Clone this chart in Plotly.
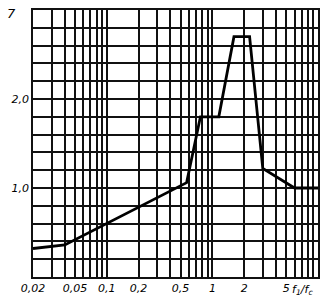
import numpy as np
import plotly.graph_objects as go

# Data
ratio = [0.02, 0.04, 0.57, 0.77, 1.15, 1.6, 2.25, 3.0, 6.0, 10.0]
value = [0.32, 0.36, 1.06, 1.8, 1.8, 2.7, 2.7, 1.22, 1.0, 1.0]

x_grid = [0.02, 0.03, 0.04, 0.05, 0.06, 0.07, 0.08, 0.09,
          0.1, 0.2, 0.3, 0.4, 0.5, 0.6, 0.7, 0.8, 0.9,
          1, 2, 3, 4, 5, 6, 7, 8, 9, 10]
x_tick_vals = [0.02, 0.05, 0.1, 0.2, 0.5, 1, 2, 5]
x_tick_text = ["0,02", "0,05", "0,1", "0,2", "0,5", "1", "2", "5"]
y_grid = [round(0.2 * k, 1) for k in range(16)]
y_tick_vals = [1.0, 2.0]
y_tick_text = ["1,0", "2,0"]
top_label = "7"
x_title = "f<sub>1</sub>/f<sub>c</sub>"

font = dict(family="DejaVu Sans", size=11, color="black", style="italic")
grid_col = "#111"
grid_w = 1.6

fig = go.Figure()
fig.add_trace(go.Scatter(x=ratio, y=value, mode="lines",
                         line=dict(color="black", width=2.8),
                         showlegend=False, hoverinfo="skip"))

fig.update_xaxes(type="log", range=[np.log10(0.02), np.log10(10)],
                 tickmode="array", tickvals=x_tick_vals, ticktext=x_tick_text,
                 showgrid=True, gridcolor=grid_col, gridwidth=grid_w,
                 minor=dict(tickmode="array", tickvals=x_grid, showgrid=True,
                            gridcolor=grid_col, gridwidth=grid_w, ticks=""),
                 showline=True, linecolor="#111", linewidth=1.6, mirror=True,
                 ticks="", tickfont=font, zeroline=False)
fig.update_yaxes(range=[0, 3],
                 tickmode="array", tickvals=y_tick_vals, ticktext=y_tick_text,
                 showgrid=True, gridcolor=grid_col, gridwidth=grid_w,
                 minor=dict(tickmode="array", tickvals=y_grid, showgrid=True,
                            gridcolor=grid_col, gridwidth=grid_w, ticks=""),
                 showline=True, linecolor="#111", linewidth=1.6, mirror=True,
                 ticks="", tickfont=font, zeroline=False)

fig.add_annotation(xref="paper", yref="y", x=0, y=3, text=top_label,
                   showarrow=False, xanchor="right", yanchor="top",
                   xshift=-15, yshift=6, font=dict(font, size=13))
fig.add_annotation(xref="paper", yref="paper", x=0.945, y=0, text=x_title,
                   showarrow=False, xanchor="center", yanchor="top",
                   yshift=-4, font=font)

fig.update_layout(width=328, height=305,
                  margin=dict(l=33, r=8, t=8, b=28),
                  paper_bgcolor="white", plot_bgcolor="white")

fig.write_html("out.html")
